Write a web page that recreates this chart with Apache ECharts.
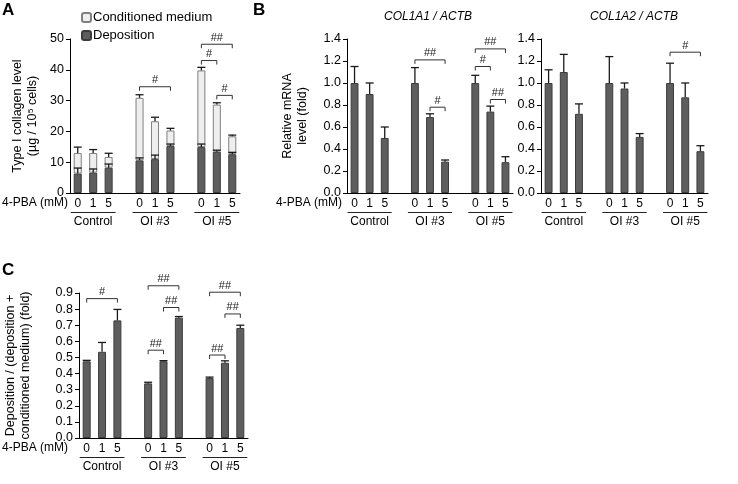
<!DOCTYPE html>
<html>
<head>
<meta charset="utf-8">
<script src="https://cdn.jsdelivr.net/npm/echarts@6/dist/echarts.min.js"></script>
<style>
    html, body, #main { margin: 0; padding: 0; width: 738px; height: 484px; background: #fff; }
</style>
</head>
<body>
<div id="main"></div>
<script>
// x categories (gaps between the three groups)
var cats = ['0', '1', '5', '', '0', '1', '5', '', '0', '1', '5'];
var groupLabels = ['', 'Control', '', '', '', 'OI #3', '', '', '', 'OI #5', ''];

// A: type I collagen (ug / 10^5 cells)
var depA     = [6.3, 6.6, 8.2, 10.6, 11.0, 15.3, 14.9, 13.4, 12.6];
var depAErr  = [1.8, 1.2, 1.2, 0.8, 1.3, 0.6, 1.0, 0.5, 0.6];
var totA     = [13.0, 13.0, 11.7, 30.9, 23.3, 20.3, 39.8, 28.7, 18.4];
var totAErr  = [1.9, 1.1, 1.2, 1.0, 1.3, 0.7, 1.0, 0.6, 0.4];

// B: relative mRNA level
var col1a1    = [1.0, 0.9, 0.5, 1.0, 0.69, 0.285, 1.0, 0.74, 0.28];
var col1a1Err = [0.15, 0.1, 0.1, 0.14, 0.03, 0.015, 0.07, 0.05, 0.05];
var col1a2    = [1.0, 1.1, 0.72, 1.0, 0.95, 0.51, 1.0, 0.87, 0.38];
var col1a2Err = [0.12, 0.16, 0.09, 0.24, 0.05, 0.03, 0.18, 0.13, 0.05];

// C: deposition / (deposition + conditioned medium)
var ratioC    = [0.476, 0.535, 0.73, 0.339, 0.476, 0.747, 0.372, 0.467, 0.683];
var ratioCErr = [0.006, 0.058, 0.068, 0.007, 0.004, 0.007, 0.006, 0.012, 0.017];

// significance brackets: [from sample, to sample, y, label]
var sigA  = [[3, 5, 34.5, '#'], [6, 8, 48.3, '##'], [6, 7, 43, '#'], [7, 8, 31.7, '#']];
var sigB1 = [[3, 5, 1.21, '##'], [4, 5, 0.78, '#'], [6, 8, 1.31, '##'], [6, 7, 1.15, '#'], [7, 8, 0.85, '##']];
var sigB2 = [[6, 8, 1.28, '#']];
var sigC  = [[0, 2, 0.865, '#'], [3, 5, 0.945, '##'], [4, 5, 0.81, '##'], [3, 4, 0.545, '##'],
             [6, 8, 0.905, '##'], [7, 8, 0.77, '##'], [6, 7, 0.515, '##']];

var FONT = 'Liberation Sans, Arial, sans-serif';
var DARK = '#5e5e5e', DARKB = '#3c3c3c', LIGHT = '#eeeeee', LIGHTB = '#808080';

function pos(i) { return i + Math.floor(i / 3); }
function spread(vals) {
    var out = cats.map(function () { return '-'; });
    vals.forEach(function (v, i) { out[pos(i)] = v; });
    return out;
}
function errData(base, err) {
    return base.map(function (v, i) { return [pos(i), v, v + err[i]]; });
}

function errItem(params, api) {
    var x = api.value(0);
    var p0 = api.coord([x, api.value(1)]);
    var p1 = api.coord([x, api.value(2)]);
    var st = { stroke: '#1a1a1a', lineWidth: 1.3 };
    return { type: 'group', children: [
        { type: 'line', shape: { x1: p0[0], y1: p0[1], x2: p1[0], y2: p1[1] }, style: st },
        { type: 'line', shape: { x1: p1[0] - 4, y1: p1[1], x2: p1[0] + 4, y2: p1[1] }, style: st }
    ]};
}

function bracketItem(sig) {
    return function (params, api) {
        var a = api.coord([api.value(0), api.value(1)]);
        var b = api.coord([api.value(2), api.value(1)]);
        return { type: 'group', children: [
            { type: 'polyline', shape: { points: [[a[0], a[1] + 4], [a[0], a[1]], [b[0], b[1]], [b[0], b[1] + 4]] },
              style: { stroke: '#333', fill: null, lineWidth: 1 } },
            { type: 'text', style: { text: sig[params.dataIndex][3], x: (a[0] + b[0]) / 2, y: a[1] - 1,
              align: 'center', verticalAlign: 'bottom', fill: '#222', font: '11px ' + FONT } }
        ]};
    };
}

function underlineItem(params, api) {
    var a = api.coord([api.value(0), 0]);
    var b = api.coord([api.value(1), 0]);
    var y = a[1] + 19.5;
    return { type: 'line', shape: { x1: a[0] - 7, y1: y, x2: b[0] + 7, y2: y },
             style: { stroke: '#222', lineWidth: 1 } };
}

var grids = [
    { left: 70, top: 39, width: 170, height: 154, outerBoundsMode: 'none' },
    { left: 347, top: 39, width: 166, height: 154, outerBoundsMode: 'none' },
    { left: 541, top: 39, width: 167, height: 154, outerBoundsMode: 'none' },
    { left: 79, top: 293, width: 169, height: 145, outerBoundsMode: 'none' }
];

var xAxes = [], yAxes = [];
grids.forEach(function (g, gi) {
    xAxes.push({
        type: 'category', gridIndex: gi, data: cats,
        axisLine: { lineStyle: { color: '#000', width: 1 } },
        axisTick: { interval: 0, length: 4, lineStyle: { color: '#000' } },
        axisLabel: { interval: 0, color: '#000', fontSize: 12, fontFamily: FONT, margin: 5 }
    });
    xAxes.push({
        type: 'category', gridIndex: gi, data: groupLabels, position: 'bottom', offset: 18,
        axisLine: { show: false }, axisTick: { show: false },
        axisLabel: { interval: 0, color: '#000', fontSize: 12, fontFamily: FONT, margin: 5 }
    });
});

var yBase = {
    axisLine: { show: true, lineStyle: { color: '#000', width: 1 } },
    axisTick: { show: true, length: 4, lineStyle: { color: '#000' } },
    splitLine: { show: false },
    nameLocation: 'middle',
    nameTextStyle: { color: '#000', fontSize: 12.5, fontFamily: FONT, lineHeight: 15 }
};
function yAxis(gi, max, interval, digits, name, gap) {
    return Object.assign({}, yBase, {
        type: 'value', gridIndex: gi, min: 0, max: max, interval: interval,
        name: name, nameGap: gap,
        axisLabel: { color: '#000', fontSize: 12.5, fontFamily: FONT, margin: 6,
            formatter: function (v) { return v.toFixed(digits); } }
    });
}
yAxes.push(yAxis(0, 50, 10, 0, 'Type I collagen level\n(µg / 10⁵ cells)', 30));
yAxes.push(yAxis(1, 1.4, 0.2, 1, 'Relative mRNA\nlevel (fold)', 37));
yAxes.push(yAxis(2, 1.4, 0.2, 1, '', 0));
yAxes.push(yAxis(3, 0.9, 0.1, 1, 'Deposition / (deposition +\nconditioned medium) (fold)', 46));

function barSeries(gi, name, vals, color, border, stack) {
    return { type: 'bar', name: name, xAxisIndex: gi * 2, yAxisIndex: gi, data: spread(vals),
             barWidth: '52%', stack: stack,
             itemStyle: { color: color, borderColor: border, borderWidth: 1 } };
}
function errSeries(gi, base, err) {
    return { type: 'custom', xAxisIndex: gi * 2, yAxisIndex: gi, data: errData(base, err),
             renderItem: errItem, z: 5, silent: true };
}
function sigSeries(gi, sig) {
    return { type: 'custom', xAxisIndex: gi * 2, yAxisIndex: gi, silent: true, z: 5,
             data: sig.map(function (s) { return [pos(s[0]), s[2], pos(s[1])]; }),
             encode: { x: [0, 2], y: 1 }, renderItem: bracketItem(sig) };
}
function lineSeries(gi) {
    return { type: 'custom', xAxisIndex: gi * 2, yAxisIndex: gi, silent: true,
             data: [[0, 2], [4, 6], [8, 10]], encode: { x: [0, 1] }, renderItem: underlineItem };
}

var medA = totA.map(function (t, i) { return +(t - depA[i]).toFixed(2); });

var series = [
    barSeries(0, 'Deposition', depA, DARK, DARKB, 'a'),
    barSeries(0, 'Conditioned medium', medA, LIGHT, LIGHTB, 'a'),
    errSeries(0, depA, depAErr),
    errSeries(0, totA, totAErr),
    sigSeries(0, sigA),
    lineSeries(0),
    barSeries(1, 'COL1A1', col1a1, DARK, DARKB),
    errSeries(1, col1a1, col1a1Err),
    sigSeries(1, sigB1),
    lineSeries(1),
    barSeries(2, 'COL1A2', col1a2, DARK, DARKB),
    errSeries(2, col1a2, col1a2Err),
    sigSeries(2, sigB2),
    lineSeries(2),
    barSeries(3, 'Ratio', ratioC, DARK, DARKB),
    errSeries(3, ratioC, ratioCErr),
    sigSeries(3, sigC),
    lineSeries(3)
];

var letter = { fontSize: 17, fontWeight: 'bold', color: '#000', fontFamily: FONT };
var geneTitle = { fontSize: 12, fontWeight: 'normal', fontStyle: 'italic', color: '#000', fontFamily: FONT };

var chart = echarts.init(document.getElementById('main'), null, { renderer: 'canvas' });
chart.setOption({
    animation: false,
    backgroundColor: '#fff',
    title: [
        { text: 'A', left: 0, top: 0, textStyle: letter, padding: 2 },
        { text: 'B', left: 251, top: 0, textStyle: letter, padding: 2 },
        { text: 'C', left: 0, top: 260, textStyle: letter, padding: 2 },
        { text: 'COL1A1 / ACTB', left: 428, top: 11, textAlign: 'center', textStyle: geneTitle, padding: 0 },
        { text: 'COL1A2 / ACTB', left: 634, top: 11, textAlign: 'center', textStyle: geneTitle, padding: 0 }
    ],
    legend: {
        data: ['Conditioned medium', 'Deposition'],
        orient: 'vertical', left: 81, top: 11, itemWidth: 9, itemHeight: 9, itemGap: 5, padding: 0,
        textStyle: { color: '#000', fontSize: 13, fontFamily: FONT, padding: [0, 0, 0, -3] }
    },
    grid: grids,
    xAxis: xAxes,
    yAxis: yAxes,
    series: series,
    graphic: [
        { type: 'text', left: 2, top: 197, style: { text: '4-PBA (mM)', font: '12px ' + FONT, fill: '#000' } },
        { type: 'text', left: 276, top: 197, style: { text: '4-PBA (mM)', font: '12px ' + FONT, fill: '#000' } },
        { type: 'text', left: 2, top: 442, style: { text: '4-PBA (mM)', font: '12px ' + FONT, fill: '#000' } }
    ]
});
</script>
</body>
</html>
